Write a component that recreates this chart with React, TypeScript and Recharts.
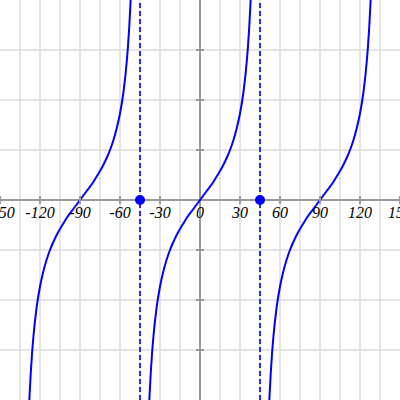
import React from 'react';
import { ComposedChart, Line, XAxis, YAxis, ReferenceLine, ReferenceDot } from 'recharts';

const leftBranch = [
  { x: -128, y: -4.0 }, { x: -127, y: -3.49 }, { x: -126, y: -3.08 }, { x: -125, y: -2.75 },
  { x: -122.5, y: -2.14 }, { x: -120, y: -1.73 }, { x: -117.5, y: -1.43 }, { x: -115, y: -1.19 },
  { x: -112.5, y: -1.0 }, { x: -110, y: -0.84 }, { x: -107.5, y: -0.7 }, { x: -105, y: -0.58 },
  { x: -102.5, y: -0.47 }, { x: -100, y: -0.36 }, { x: -95, y: -0.18 }, { x: -90, y: 0 },
  { x: -85, y: 0.18 }, { x: -80, y: 0.36 }, { x: -77.5, y: 0.47 }, { x: -75, y: 0.58 },
  { x: -72.5, y: 0.7 }, { x: -70, y: 0.84 }, { x: -67.5, y: 1.0 }, { x: -65, y: 1.19 },
  { x: -62.5, y: 1.43 }, { x: -60, y: 1.73 }, { x: -57.5, y: 2.14 }, { x: -55, y: 2.75 },
  { x: -54, y: 3.08 }, { x: -53, y: 3.49 }, { x: -52, y: 4.0 },
];

const middleBranch = [
  { x: -38, y: -4.0 }, { x: -37, y: -3.49 }, { x: -36, y: -3.08 }, { x: -35, y: -2.75 },
  { x: -32.5, y: -2.14 }, { x: -30, y: -1.73 }, { x: -27.5, y: -1.43 }, { x: -25, y: -1.19 },
  { x: -22.5, y: -1.0 }, { x: -20, y: -0.84 }, { x: -17.5, y: -0.7 }, { x: -15, y: -0.58 },
  { x: -12.5, y: -0.47 }, { x: -10, y: -0.36 }, { x: -5, y: -0.18 }, { x: 0, y: 0 },
  { x: 5, y: 0.18 }, { x: 10, y: 0.36 }, { x: 12.5, y: 0.47 }, { x: 15, y: 0.58 },
  { x: 17.5, y: 0.7 }, { x: 20, y: 0.84 }, { x: 22.5, y: 1.0 }, { x: 25, y: 1.19 },
  { x: 27.5, y: 1.43 }, { x: 30, y: 1.73 }, { x: 32.5, y: 2.14 }, { x: 35, y: 2.75 },
  { x: 36, y: 3.08 }, { x: 37, y: 3.49 }, { x: 38, y: 4.0 },
];

const rightBranch = [
  { x: 52, y: -4.0 }, { x: 53, y: -3.49 }, { x: 54, y: -3.08 }, { x: 55, y: -2.75 },
  { x: 57.5, y: -2.14 }, { x: 60, y: -1.73 }, { x: 62.5, y: -1.43 }, { x: 65, y: -1.19 },
  { x: 67.5, y: -1.0 }, { x: 70, y: -0.84 }, { x: 72.5, y: -0.7 }, { x: 75, y: -0.58 },
  { x: 77.5, y: -0.47 }, { x: 80, y: -0.36 }, { x: 85, y: -0.18 }, { x: 90, y: 0 },
  { x: 95, y: 0.18 }, { x: 100, y: 0.36 }, { x: 102.5, y: 0.47 }, { x: 105, y: 0.58 },
  { x: 107.5, y: 0.7 }, { x: 110, y: 0.84 }, { x: 112.5, y: 1.0 }, { x: 115, y: 1.19 },
  { x: 117.5, y: 1.43 }, { x: 120, y: 1.73 }, { x: 122.5, y: 2.14 }, { x: 125, y: 2.75 },
  { x: 126, y: 3.08 }, { x: 127, y: 3.49 }, { x: 128, y: 4.0 },
];

const asymptotes = [-45, 45];
const xGridTicks = [-135, -120, -105, -90, -75, -60, -45, -30, -15, 15, 30, 45, 60, 75, 90, 105, 120, 135];
const yGridTicks = [-3, -2, -1, 1, 2, 3];
const xLabelTicks = [-150, -120, -90, -60, -30, 0, 30, 60, 90, 120, 150];
const yMarkTicks = [-3, -2, -1, 1, 2, 3];

const BLUE = '#0000ff';
const DASH_BLUE = '#2a2aff';
const AXIS = '#999999';
const GRID = '#dddddd';

const HTick = (props: any) => {
  const { cx, cy } = props;
  return <line x1={cx - 4} x2={cx + 4} y1={cy} y2={cy} stroke={AXIS} strokeWidth={2} />;
};

const VTick = (props: any) => {
  const { cx, cy } = props;
  return <line x1={cx} x2={cx} y1={cy - 4} y2={cy + 4} stroke={AXIS} strokeWidth={2} />;
};

const TickLabel = (value: number) => (props: any) => {
  const { viewBox } = props;
  const cx = viewBox.x + (viewBox.width || 0) / 2;
  const cy = viewBox.y + (viewBox.height || 0) / 2;
  return (
    <text
      x={cx}
      y={cy + 18}
      textAnchor="middle"
      style={{ fontFamily: 'Liberation Serif', fontStyle: 'italic', fontSize: 16, fill: '#000' }}
    >
      {String(value)}
    </text>
  );
};

export default function App() {
  return (
    <div style={{ position: 'absolute', left: 0, top: 0, width: 400, height: 400, background: '#fff' }}>
      <ComposedChart width={400} height={400} margin={{ top: 0, right: 0, bottom: 0, left: 0 }}>
        <XAxis
          type="number"
          dataKey="x"
          domain={[-150, 150]}
          allowDataOverflow
          height={0}
          axisLine={false}
          tickLine={false}
          tick={false}
        />
        <YAxis
          type="number"
          dataKey="y"
          domain={[-4, 4]}
          allowDataOverflow
          width={0}
          axisLine={false}
          tickLine={false}
          tick={false}
        />
        {xGridTicks.map((t) => (
          <ReferenceLine key={'gx' + t} x={t} stroke={GRID} strokeWidth={1.5} />
        ))}
        {yGridTicks.map((t) => (
          <ReferenceLine key={'gy' + t} y={t} stroke={GRID} strokeWidth={1.5} />
        ))}
        <ReferenceLine x={0} stroke={AXIS} strokeWidth={2} />
        <ReferenceLine y={0} stroke={AXIS} strokeWidth={2} />
        {yMarkTicks.map((t) => (
          <ReferenceDot key={'yt' + t} x={0} y={t} r={0} shape={HTick} />
        ))}
        {xLabelTicks.filter((t) => t !== 0).map((t) => (
          <ReferenceDot key={'xt' + t} x={t} y={0} r={0} shape={VTick} />
        ))}
        {asymptotes.map((a) => (
          <ReferenceLine key={'as' + a} x={a} stroke={DASH_BLUE} strokeWidth={2} strokeDasharray="5 3" />
        ))}
        <Line data={leftBranch} dataKey="y" type="monotone" stroke={BLUE} strokeWidth={2} dot={false} activeDot={false} isAnimationActive={false} />
        <Line data={middleBranch} dataKey="y" type="monotone" stroke={BLUE} strokeWidth={2} dot={false} activeDot={false} isAnimationActive={false} />
        <Line data={rightBranch} dataKey="y" type="monotone" stroke={BLUE} strokeWidth={2} dot={false} activeDot={false} isAnimationActive={false} />
        {xLabelTicks.map((t) => (
          <ReferenceDot key={'xl' + t} x={t} y={0} r={0} fill="none" stroke="none" label={{ content: TickLabel(t) }} ifOverflow="visible" />
        ))}
        {asymptotes.map((a) => (
          <ReferenceDot key={'pt' + a} x={a} y={0} r={5} fill={BLUE} stroke="none" />
        ))}
      </ComposedChart>
    </div>
  );
}
